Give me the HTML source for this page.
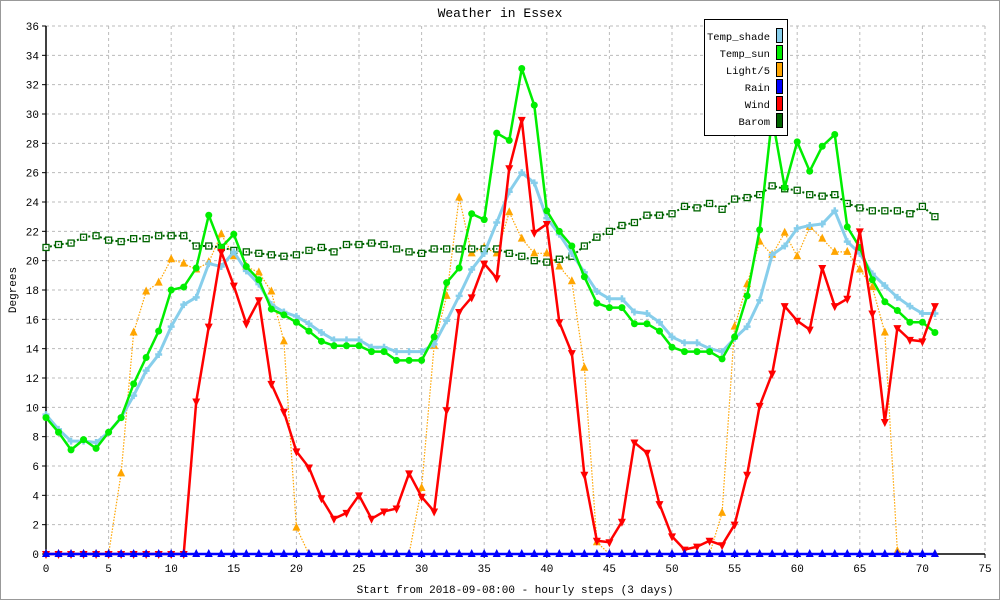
<!DOCTYPE html>
<html><head><meta charset="utf-8"><style>
body{margin:0;background:#fff;}
svg{display:block;font-family:"Liberation Mono","DejaVu Sans Mono",monospace;}
</style></head><body>
<svg id="chart" width="1000" height="600" viewBox="0 0 1000 600" xmlns="http://www.w3.org/2000/svg">
<rect x="0.5" y="0.5" width="999" height="599" fill="#fff" stroke="#999"/>
<text x="500" y="17" text-anchor="middle" font-size="13">Weather in Essex</text>
<g id="grid"></g>
<g id="axes"></g>
<g id="series"></g>
<text transform="translate(16,290) rotate(-90)" text-anchor="middle" font-size="11">Degrees</text>
<text x="515" y="593" text-anchor="middle" font-size="11">Start from 2018-09-08:00 - hourly steps (3 days)</text>
<g id="legend"></g>
</svg>
<script>
const xTicks=[0,5,10,15,20,25,30,35,40,45,50,55,60,65,70,75];
const yTicks=[0,2,4,6,8,10,12,14,16,18,20,22,24,26,28,30,32,34,36];
const tempShade=[9.5,8.5,7.7,7.7,7.6,8.3,9.3,10.8,12.5,13.6,15.5,17,17.5,19.8,19.6,20.6,19.3,18.4,17,16.5,16.2,15.7,15.1,14.6,14.6,14.6,14.1,14.1,13.8,13.8,13.8,14.3,15.9,17.6,19.4,20.5,22.6,24.7,26,25.3,22.9,21.8,20.5,19.2,17.9,17.4,17.4,16.5,16.4,15.8,14.8,14.4,14.4,14,13.8,14.7,15.5,17.3,20.4,21,22.2,22.4,22.5,23.4,21.3,20.5,19.1,18.3,17.5,16.9,16.4,16.4];
const tempSun=[9.3,8.3,7.1,7.8,7.2,8.3,9.3,11.6,13.4,15.2,18,18.2,19.5,23.1,20.9,21.8,19.6,18.7,16.7,16.3,15.8,15.2,14.5,14.2,14.2,14.2,13.8,13.8,13.2,13.2,13.2,14.8,18.5,19.5,23.2,22.8,28.7,28.2,33.1,30.6,23.4,22,21,18.9,17.1,16.8,16.8,15.7,15.7,15.2,14.1,13.8,13.8,13.8,13.3,14.8,17.6,22.1,29.8,25,28.1,26.1,27.8,28.6,22.3,20.9,18.7,17.2,16.6,15.8,15.8,15.1];
const light5=[0,0,0,0,0,0,5.5,15.1,17.9,18.5,20.1,19.8,19.4,19.9,21.8,20.3,19.6,19.2,17.9,14.5,1.8,0,0,0,0,0,0,0,0,0,4.5,14.2,17.6,24.3,20.5,20.9,20.5,23.3,21.5,20.5,20.5,19.6,18.6,12.7,0.8,0,0,0,0,0,0,0,0,0,2.8,15.5,18.4,21.3,20.4,21.9,20.3,22.3,21.5,20.6,20.6,19.4,18.2,15.1,0.2,0,0,0];
const rain=[0,0,0,0,0,0,0,0,0,0,0,0,0,0,0,0,0,0,0,0,0,0,0,0,0,0,0,0,0,0,0,0,0,0,0,0,0,0,0,0,0,0,0,0,0,0,0,0,0,0,0,0,0,0,0,0,0,0,0,0,0,0,0,0,0,0,0,0,0,0,0,0];
const wind=[0,0,0,0,0,0,0,0,0,0,0,0,10.4,15.5,20.6,18.3,15.7,17.3,11.6,9.7,7,5.9,3.8,2.4,2.8,4,2.4,2.9,3.1,5.5,3.9,2.9,9.8,16.5,17.5,19.8,18.8,26.3,29.6,21.9,22.5,15.8,13.7,5.4,0.9,0.8,2.2,7.6,6.9,3.4,1.2,0.3,0.5,0.9,0.6,2,5.4,10.1,12.3,16.9,15.9,15.3,19.5,16.9,17.4,22,16.4,9,15.4,14.6,14.5,16.9];
const barom=[20.9,21.1,21.2,21.6,21.7,21.4,21.3,21.5,21.5,21.7,21.7,21.7,21,21,20.9,20.7,20.6,20.5,20.4,20.3,20.4,20.7,20.9,20.6,21.1,21.1,21.2,21.1,20.8,20.6,20.5,20.8,20.8,20.8,20.8,20.8,20.8,20.5,20.3,20,19.9,20.1,20.3,21,21.6,22,22.4,22.6,23.1,23.1,23.2,23.7,23.6,23.9,23.5,24.2,24.3,24.5,25.1,24.9,24.8,24.5,24.4,24.5,23.9,23.6,23.4,23.4,23.4,23.2,23.7,23.0];
const seriesNames=["Temp_shade","Temp_sun","Light/5","Rain","Wind","Barom"];

const NS="http://www.w3.org/2000/svg";
const L=46,R=985,T=26,B=554,XMAX=75,YMAX=36;
const xs=v=>L+(R-L)*v/XMAX;
const ys=v=>B-(B-T)*v/YMAX;
function mk(tag,attrs,parent){const e=document.createElementNS(NS,tag);for(const k in attrs)e.setAttribute(k,attrs[k]);parent.appendChild(e);return e;}
const grid=document.getElementById('grid'),axes=document.getElementById('axes'),ser=document.getElementById('series'),leg=document.getElementById('legend');

xTicks.forEach(t=>{
  if(t>0){const g=mk('line',{x1:xs(t),x2:xs(t),y1:T,y2:B,stroke:'#bbb','stroke-dasharray':'3,3'},grid);
  }
  const tk=mk('line',{x1:xs(t),x2:xs(t),y1:B,y2:B+4,stroke:'#000'},axes);
  
  const tx=mk('text',{x:xs(t),y:B+18,'text-anchor':'middle','font-size':11},axes);tx.textContent=t;
  
});
yTicks.forEach(t=>{
  if(t>0){const g=mk('line',{x1:L,x2:R,y1:ys(t),y2:ys(t),stroke:'#bbb','stroke-dasharray':'3,3'},grid);
  }
  const tk=mk('line',{x1:L-4,x2:L,y1:ys(t),y2:ys(t),stroke:'#000'},axes);
  
  const tx=mk('text',{x:L-7,y:ys(t)+4,'text-anchor':'end','font-size':11},axes);tx.textContent=t;
  
});
const ax1=mk('line',{x1:L,x2:L,y1:T,y2:B,stroke:'#000','stroke-width':1.5},axes);

const ax2=mk('line',{x1:L,x2:R,y1:B,y2:B,stroke:'#000','stroke-width':1.5},axes);


function marker(type,x,y,c,g){
  let e;
  if(type==='circle')e=mk('circle',{cx:x,cy:y,r:3.5,fill:c},g);
  else if(type==='tri')e=mk('polygon',{points:`${x},${y-5} ${x-4},${y+3} ${x+4},${y+3}`,fill:c},g);
  else if(type==='dtri')e=mk('polygon',{points:`${x},${y+5} ${x-4},${y-3} ${x+4},${y-3}`,fill:c},g);
  else if(type==='sq'){e=mk('rect',{x:x-3,y:y-3,width:6,height:6,fill:'#fff',stroke:c,'stroke-width':1.3},g);
    const d=mk('rect',{x:x-0.7,y:y-0.7,width:1.4,height:1.4,fill:c},g);
    }
  else e=mk('path',{d:`M${x-3.5},${y}H${x+3.5}M${x},${y-3.5}V${y+3.5}`,stroke:c,'stroke-width':2.5},g);
  
  
}
const defs=[
 {d:light5,c:'#ffa500',w:1.2,dash:'1.5,1.5',m:'tri',n:'light-series'},
 {d:barom,c:'#006400',w:2,dash:'2,2',m:'sq',n:'barom-series'},
 {d:tempShade,c:'#87ceeb',w:3,dash:null,m:'plus',n:'temp-shade-series'},
 {d:tempSun,c:'#00ee00',w:2.5,dash:null,m:'circle',n:'temp-sun-series'},
 {d:wind,c:'#ff0000',w:2.5,dash:null,m:'dtri',n:'wind-series'},
 {d:rain,c:'#0000ff',w:2.5,dash:null,m:'tri',n:'rain-series'}
];
defs.forEach(s=>{
  const g=mk('g',{},ser);
  
  const pts=s.d.map((v,i)=>xs(i)+','+ys(v)).join(' ');
  const a={points:pts,fill:'none',stroke:s.c,'stroke-width':s.w,'stroke-linejoin':'round'};
  if(s.dash)a['stroke-dasharray']=s.dash;
  const pl=mk('polyline',a,g);
  
  s.d.forEach((v,i)=>marker(s.m,xs(i),ys(v),s.c,g));
});
const lb=mk('rect',{x:704.5,y:19.5,width:83,height:116,fill:'#fff',stroke:'#000'},leg);

const lcol=['#87ceeb','#00ee00','#ffa500','#0000ff','#ff0000','#006400'];
seriesNames.forEach((n,i)=>{
  const y=36+i*17;
  const t=mk('text',{x:770,y:y+4,'text-anchor':'end','font-size':10.5},leg);t.textContent=n;
  
  const r=mk('rect',{x:776.5,y:y-7.5,width:6,height:14,fill:lcol[i],stroke:'#000'},leg);
  
});
</script>
</body></html>
